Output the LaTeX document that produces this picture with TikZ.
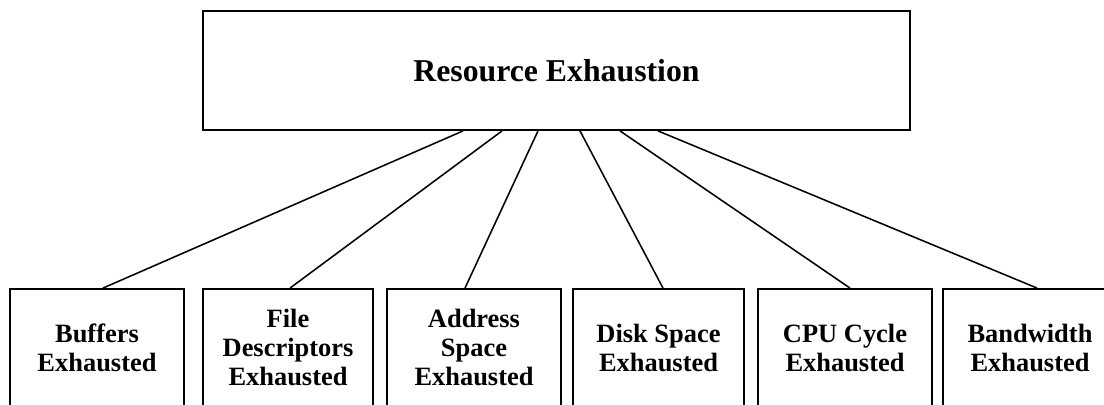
\documentclass[tikz,border=0pt]{standalone}
\usepackage{fontspec}
\setmainfont{Liberation Serif}

\begin{document}
\begin{tikzpicture}[x=0.025cm,y=-0.025cm,
  topbox/.style={draw,line width=1.3pt,minimum width=17.675cm,minimum height=2.975cm,
    align=center,font=\fontsize{22.6}{26}\selectfont\bfseries},
  leafbox/.style={draw,line width=1.3pt,minimum height=2.925cm,
    align=center,font=\fontsize{18.8}{20.6}\selectfont\bfseries},
  link/.style={line width=1.1pt}]
\useasboundingbox (0,0) rectangle (1104,404);
\clip (0,0) rectangle (1104,404);
\node[topbox] (root) at (556.5,70.5) {Resource Exhaustion};
\node[leafbox,minimum width=4.35cm] (buf) at (97,347.5) {Buffers\\Exhausted};
\node[leafbox,minimum width=4.25cm] (fd) at (288,347.5) {File\\Descriptors\\Exhausted};
\node[leafbox,minimum width=4.35cm] (addr) at (474,347.5) {Address\\Space\\Exhausted};
\node[leafbox,minimum width=4.275cm] (disk) at (658.5,347.5) {Disk Space\\Exhausted};
\node[leafbox,minimum width=4.35cm] (cpu) at (845,347.5) {CPU Cycle\\Exhausted};
\node[leafbox,minimum width=4.35cm] (bw) at (1030,347.5) {Bandwidth\\Exhausted};
\draw[link] ([xshift=-2.3375cm]root.south) -- ([xshift=0.15cm]buf.north);
\draw[link] ([xshift=-1.3625cm]root.south) -- ([xshift=0.05cm]fd.north);
\draw[link] ([xshift=-0.4625cm]root.south) -- ([xshift=-0.225cm]addr.north);
\draw[link] ([xshift=0.5875cm]root.south) -- ([xshift=0.1125cm]disk.north);
\draw[link] ([xshift=1.5875cm]root.south) -- ([xshift=0.125cm]cpu.north);
\draw[link] ([xshift=2.5375cm]root.south) -- ([xshift=0.175cm]bw.north);
\end{tikzpicture}
\end{document}
